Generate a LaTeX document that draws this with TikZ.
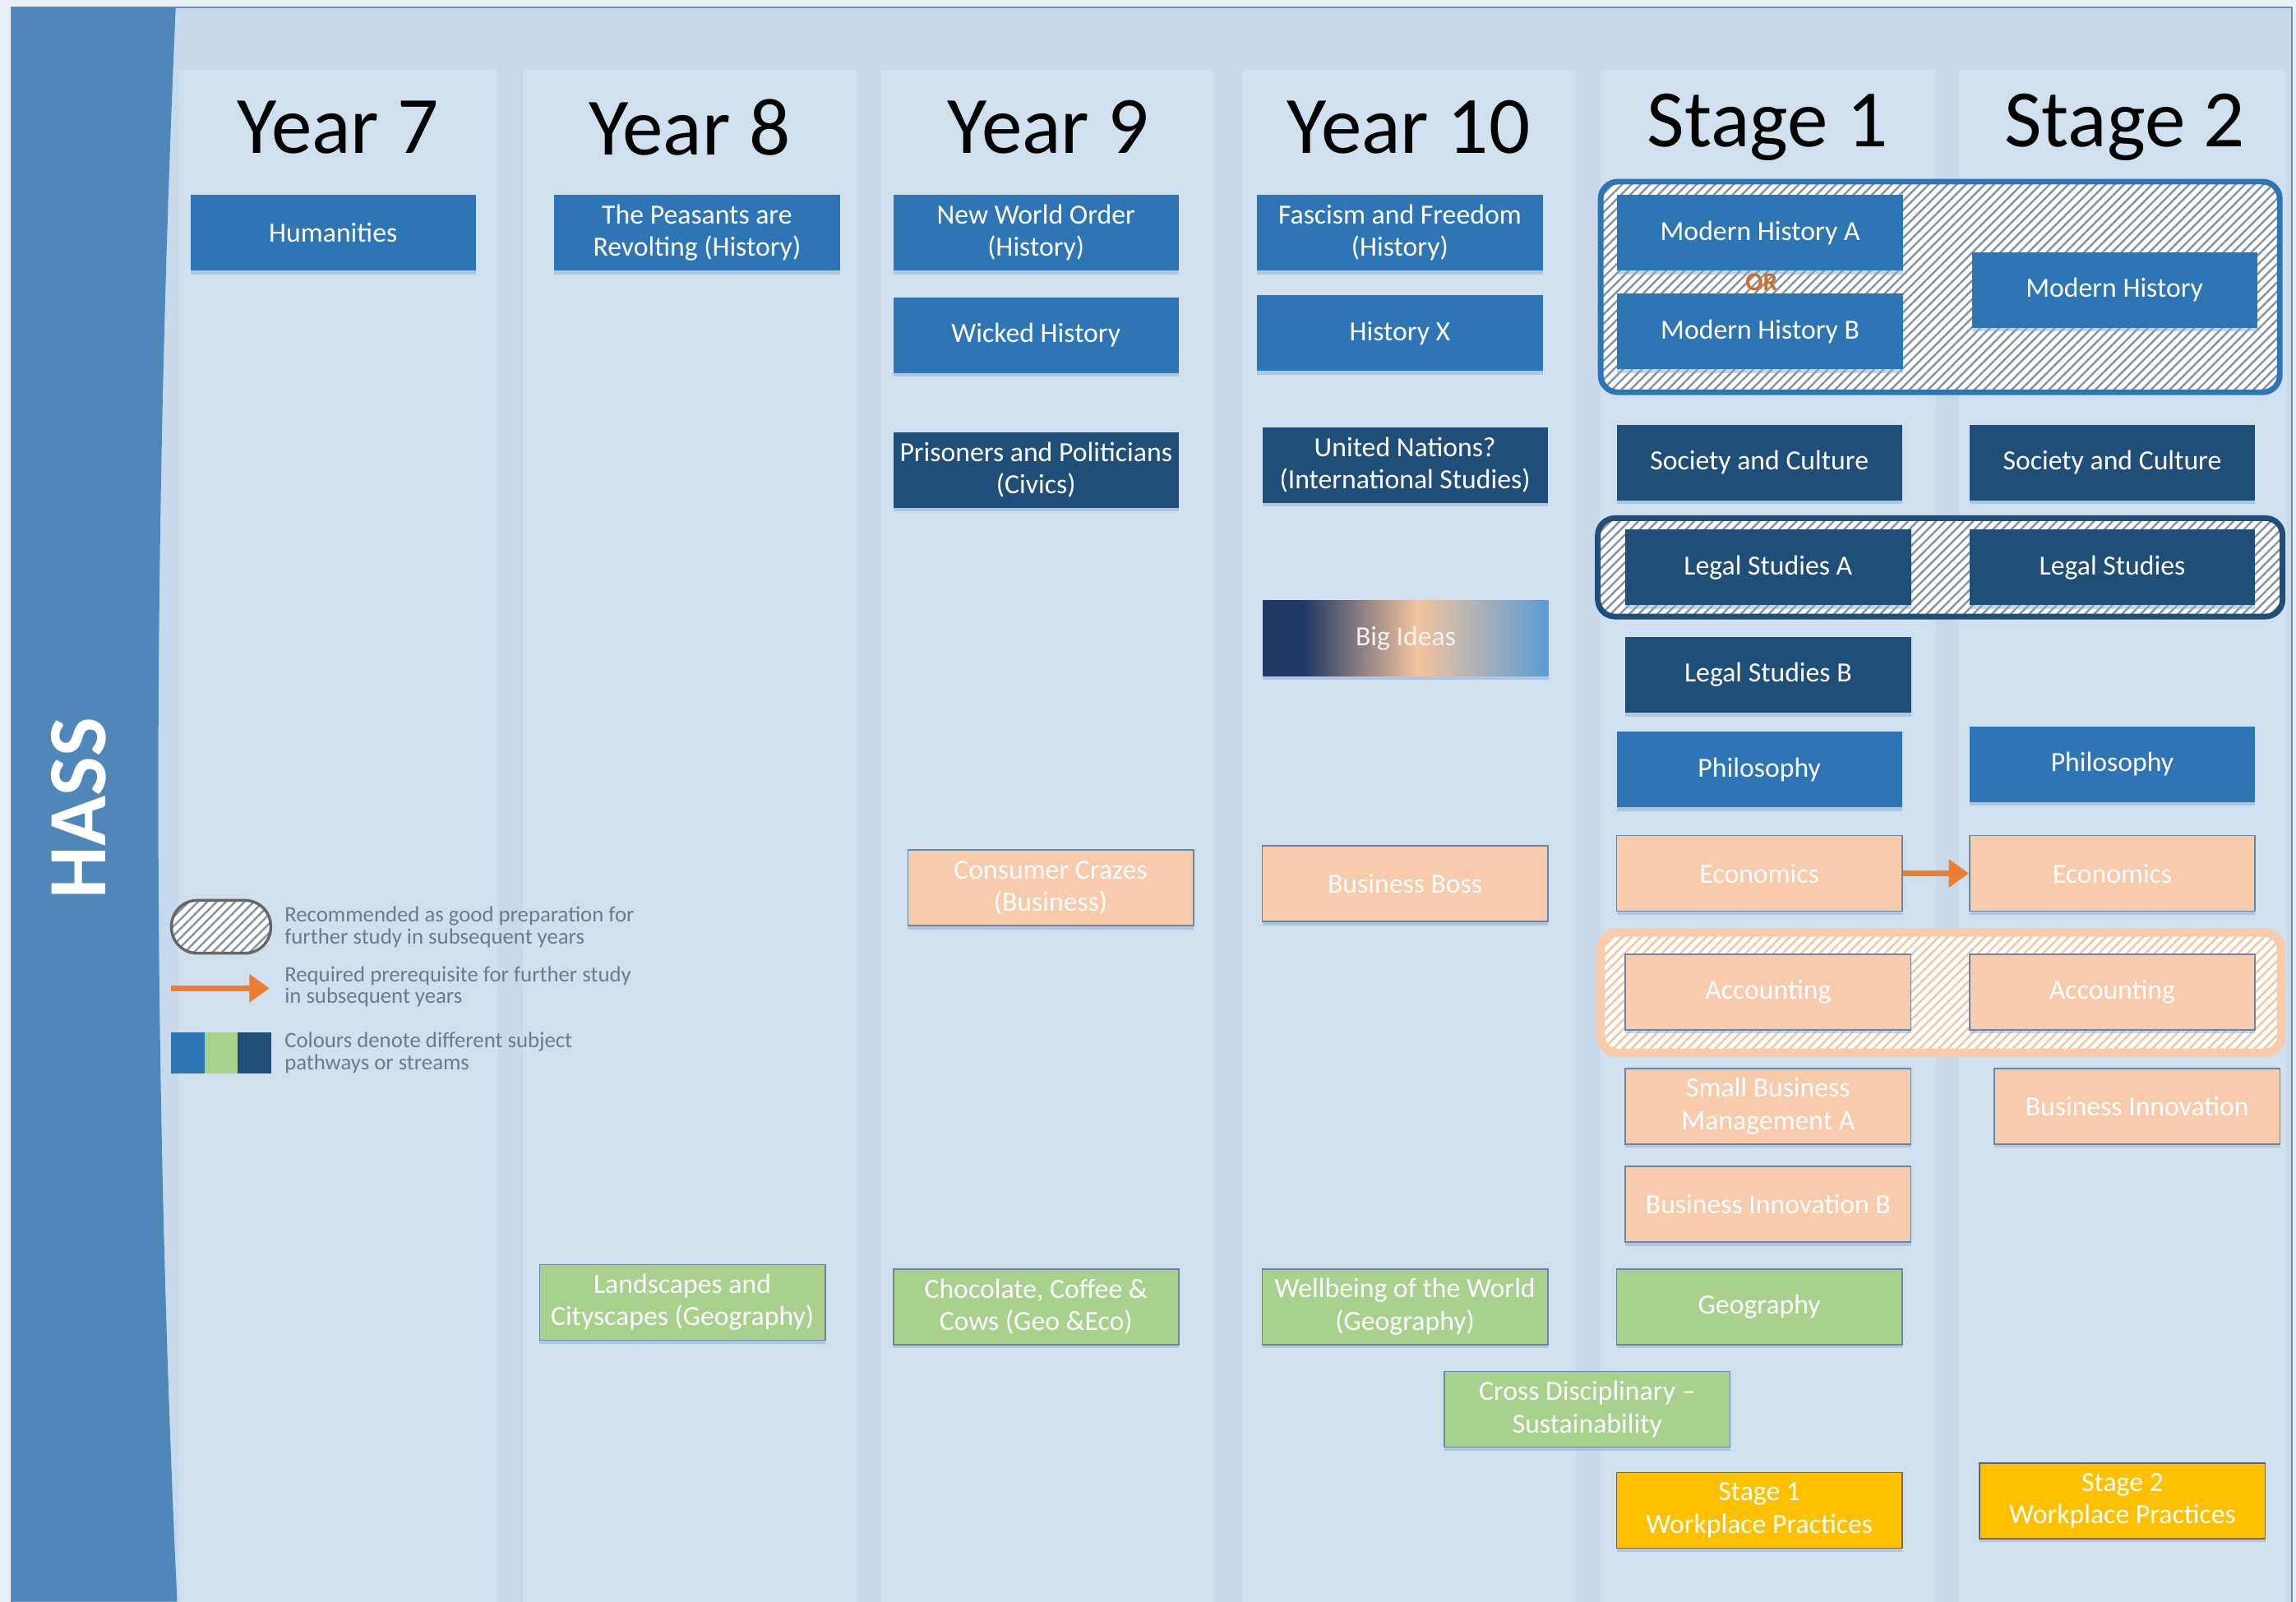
\documentclass[tikz,border=0pt]{standalone}
\usepackage{fontspec}
\setmainfont{Carlito}
\usetikzlibrary{positioning,fit,arrows.meta,patterns.meta,shadows}

\definecolor{outerbg}{HTML}{E8EFF7}
\definecolor{panelbg}{HTML}{C7D9EA}
\definecolor{colbg}{HTML}{D0E0EF}
\definecolor{panelline}{HTML}{6E8FB0}
\definecolor{bandblue}{HTML}{5087BB}
\definecolor{midblue}{HTML}{2E75B6}
\definecolor{darkblue}{HTML}{1F4E79}
\definecolor{peach}{HTML}{F8CBAD}
\definecolor{leaf}{HTML}{A9D18E}
\definecolor{gold}{HTML}{FFC000}
\definecolor{paleedge}{HTML}{6A86A4}
\definecolor{orangeline}{HTML}{ED7D31}
\definecolor{ortext}{HTML}{C9702E}
\definecolor{hatchgray}{HTML}{8593A3}
\definecolor{hatchpeach}{HTML}{F5C4A2}
\definecolor{legendtext}{HTML}{6C7A8C}
\definecolor{shadowblue}{HTML}{8EAED0}
\definecolor{ideasdark}{HTML}{1F3864}
\definecolor{ideaspeach}{HTML}{F4C4A0}
\definecolor{ideaslight}{HTML}{5B9BD5}

% tikz uses the middle half (25bp to 75bp) of the shading
\pgfdeclarehorizontalshading{bigideas}{100bp}{color(0bp)=(ideasdark); color(32bp)=(ideasdark); color(52bp)=(ideaspeach); color(75bp)=(ideaslight); color(100bp)=(ideaslight)}

\tikzset{
  header/.style={font=\fontsize{28.5}{30}\selectfont, text=black},
  box/.style={minimum width=3.51cm, minimum height=0.93cm, inner sep=0pt, align=center,
    font=\fontsize{9.7}{11.3}\selectfont, text=white,
    drop shadow={shadow xshift=0pt, shadow yshift=-1.3pt, fill=shadowblue, opacity=0.5}},
  midbox/.style={box, fill=midblue},
  darkbox/.style={box, fill=darkblue},
  peachbox/.style={box, fill=peach, draw=paleedge, line width=0.5pt},
  greenbox/.style={box, fill=leaf, draw=paleedge, line width=0.5pt},
  goldbox/.style={box, fill=gold, draw=black!60, line width=0.5pt},
  ideasbox/.style={box, shading=bigideas, text=white!95!black},
  group/.style={inner sep=0pt, rounded corners=6pt, preaction={fill=white},
    pattern={Lines[angle=45, distance=2.3pt, line width=0.7pt]}},
  bluegroup/.style={group, draw=midblue, line width=2pt, pattern color=hatchgray},
  darkgroup/.style={group, draw=darkblue, line width=2pt, pattern color=hatchgray},
  peachgroup/.style={group, draw=peach, line width=3pt, pattern color=hatchpeach},
  prereq/.style={draw=orangeline, line width=2.2pt, -{Triangle[length=7pt, width=9.5pt]}},
  legendtxt/.style={anchor=west, align=left, inner sep=0pt, text=legendtext,
    font=\fontsize{7.7}{6.4}\selectfont}
}

\begin{document}
\begin{tikzpicture}[x=0.018cm, y=-0.018cm]

  % page and panel
  \fill[outerbg] (0,0) rectangle (1568,1094);
  \useasboundingbox (0,0) rectangle (1568,1094);
  \filldraw[fill=panelbg, draw=panelline, line width=0.6pt] (8,5) rectangle (1565,1100);
  \foreach \l/\r in {122/340, 357/585, 602/830, 848/1077, 1093/1322, 1338/1562}
    \fill[colbg] (\l,48) rectangle (\r,1094);
  \fill[bandblue] (8,5) -- (120,5) .. controls (104,368) and (104,731) .. (121,1094) -- (8,1094) -- cycle;
  \node[rotate=90, font=\fontsize{29}{29}\selectfont\bfseries, text=white] (hass) at (54,552) {HASS};

  % column headings
  \foreach \cx/\lbl/\nm in {231/Year 7/y7, 471/Year 8/y8, 716/Year 9/y9,
                            962/Year 10/y10, 1207/Stage 1/s1, 1451/Stage 2/s2}
    \node[header] (\nm) at (\cx,87) {\lbl};

  % recommended groupings
  \node[bluegroup, minimum width=8.35cm, minimum height=2.59cm] (histgroup) at (1325,196) {};
  \node[darkgroup, minimum width=8.42cm, minimum height=1.21cm] (legalgroup) at (1325,387.5) {};
  \node[peachgroup, minimum width=8.37cm, minimum height=1.48cm] (accgroup) at (1325.5,678) {};

  % Year 7
  \node[midbox] (humanities) at (227.5,159) {Humanities};

  % Year 8
  \node[midbox] (peasants) at (476,159) {The Peasants are\\Revolting (History)};
  \node[greenbox] (landscapes) at (466,889.5) {Landscapes and\\Cityscapes (Geography)};

  % Year 9
  \node[midbox] (worldorder) at (707.5,159) {New World Order\\(History)};
  \node[midbox] (wicked) at (707.5,229) {Wicked History};
  \node[darkbox] (prisoners) at (707.5,321) {Prisoners and Politicians\\(Civics)};
  \node[peachbox] (consumer) at (717.5,606.5) {Consumer Crazes\\(Business)};
  \node[greenbox] (chocolate) at (707.5,892.5) {Chocolate, Coffee \&\\Cows (Geo \&Eco)};

  % Year 10
  \node[midbox] (fascism) at (956,159) {Fascism and Freedom\\(History)};
  \node[midbox] (historyx) at (956,227.5) {History X};
  \node[darkbox] (nations) at (959.5,317.5) {United Nations?\\(International Studies)};
  \node[ideasbox] (bigideas) at (960,436) {Big Ideas};
  \node[peachbox] (boss) at (959.5,603.5) {Business Boss};
  \node[greenbox] (wellbeing) at (959.5,892.5) {Wellbeing of the World\\(Geography)};
  \node[greenbox] (crossdisc) at (1084,962.5) {Cross Disciplinary --\\Sustainability};

  % Stage 1
  \node[midbox] (modhistA) at (1202,159) {Modern History A};
  \node[font=\fontsize{9}{9}\selectfont\bfseries, text=ortext, inner sep=0pt] (or) at (1203,193) {OR};
  \node[midbox] (modhistB) at (1202,226.5) {Modern History B};
  \node[darkbox] (societyA) at (1201.5,316) {Society and Culture};
  \node[darkbox] (legalA) at (1207.5,387.5) {Legal Studies A};
  \node[darkbox] (legalB) at (1207.5,461) {Legal Studies B};
  \node[midbox] (philA) at (1201.5,525.5) {Philosophy};
  \node[peachbox] (econA) at (1201.5,596.5) {Economics};
  \node[peachbox] (accA) at (1207.5,677.5) {Accounting};
  \node[peachbox] (smallbiz) at (1207.5,755.5) {Small Business\\Management A};
  \node[peachbox] (innovB) at (1207.5,822.5) {Business Innovation B};
  \node[greenbox] (geography) at (1201.5,892.5) {Geography};
  \node[goldbox] (workA) at (1201.5,1031.5) {Stage 1\\Workplace Practices};

  % Stage 2
  \node[midbox] (modhist) at (1444,198) {Modern History};
  \node[darkbox] (societyB) at (1442.5,316) {Society and Culture};
  \node[darkbox] (legal) at (1442.5,387.5) {Legal Studies};
  \node[midbox] (philB) at (1442.5,522) {Philosophy};
  \node[peachbox] (econB) at (1442.5,596.5) {Economics};
  \node[peachbox] (accB) at (1442.5,677.5) {Accounting};
  \node[peachbox] (innov) at (1459.5,755.5) {Business Innovation};
  \node[goldbox] (workB) at (1449.5,1025) {Stage 2\\Workplace Practices};

  \draw[prereq] (econA.east) -- (econB.west);

  % legend
  \node[group, draw=black!60, line width=1pt, rounded corners=9pt, pattern color=hatchgray,
        minimum width=1.22cm, minimum height=0.65cm] (keyhatch) at (151,633) {};
  \node[legendtxt] (keyhatchtxt) at (194,633) {Recommended as good preparation for\\further study in subsequent years};
  \coordinate (keyfrom) at (117,675);
  \coordinate (keyto) at (184,675);
  \draw[prereq] (keyfrom) -- (keyto);
  \node[legendtxt] (keyarrowtxt) at (194,674) {Required prerequisite for further study\\in subsequent years};
  \fill[midblue] (117,705) rectangle (140,733);
  \fill[leaf] (140,705) rectangle (162,733);
  \fill[darkblue] (162,705) rectangle (185,733);
  \node[legendtxt] (keycolourtxt) at (194,719) {Colours denote different subject\\pathways or streams};

\end{tikzpicture}
\end{document}
